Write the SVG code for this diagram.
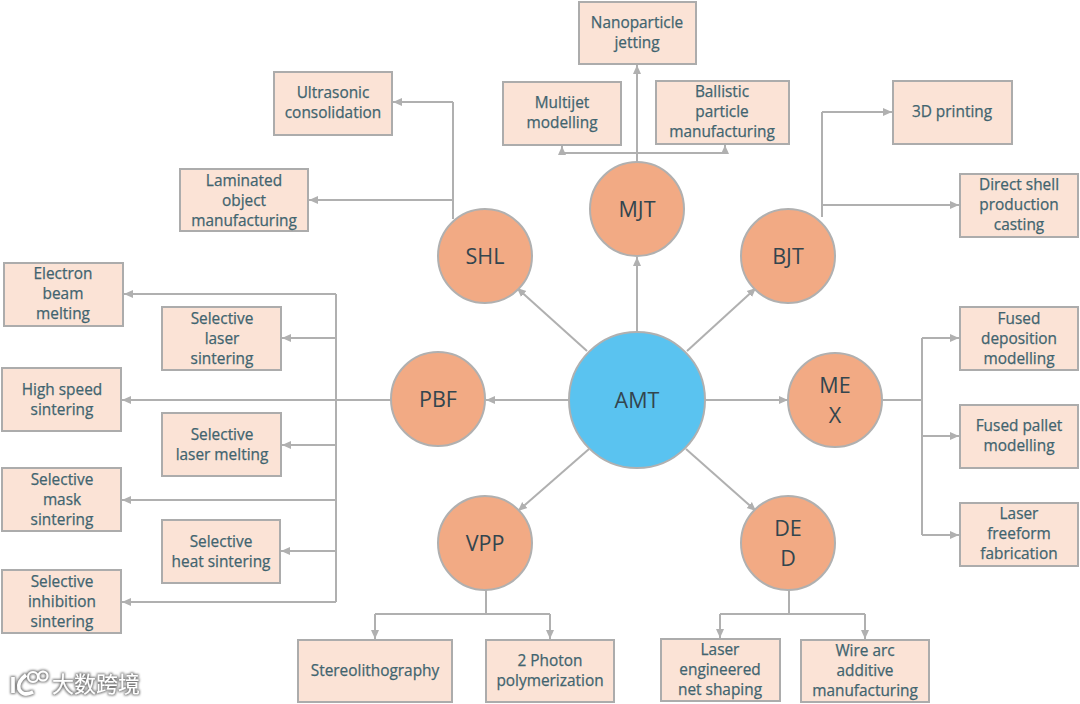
<svg xmlns="http://www.w3.org/2000/svg" width="1080" height="704" viewBox="0 0 1080 704">
<defs>
<marker id="a" markerUnits="userSpaceOnUse" markerWidth="10" markerHeight="10" refX="9" refY="5" orient="auto"><path d="M0,1 L9,5 L0,9 Z" fill="#b0b0b0"/></marker>
<filter id="s" x="-10%" y="-20%" width="120%" height="140%"><feMorphology in="SourceAlpha" operator="dilate" radius="0.8" result="d"/><feGaussianBlur in="d" stdDeviation="0.9" result="b"/><feFlood flood-color="#777777" flood-opacity="0.95"/><feComposite in2="b" operator="in"/><feMerge><feMergeNode/><feMergeNode in="SourceGraphic"/></feMerge></filter>
</defs>
<style>
text{font-family:"Open Sans","Liberation Sans",sans-serif;text-anchor:middle}
.b rect{fill:#fbe3d6;stroke:#acacac;stroke-width:2}
.b text{font-size:15.4px;fill:#41646f;stroke:#41646f;stroke-width:0.25}
.c circle{fill:#f2aa84;stroke:#b0b0b0;stroke-width:2}
.c text{font-size:21.5px;fill:#33454e}
#connectors path{fill:none;stroke:#b0b0b0;stroke-width:2}
.w{marker-end:url(#a)}
</style>
<rect width="1080" height="704" fill="#ffffff"/>
<g id="connectors">
<path class="w" d="M587,351 L517,288"/><path class="w" d="M637,332 L637,257"/><path class="w" d="M687,351 L756,288"/>
<path class="w" d="M569,400 L486,400"/><path class="w" d="M705,400 L788,400"/><path class="w" d="M589,449 L518,511"/><path class="w" d="M686,449 L756,511"/>
<path d="M453,219 L453,102"/><path class="w" d="M453,102 L393,102"/><path class="w" d="M453,200 L309,200"/>
<path class="w" d="M637,162 L637,65"/><path d="M562,153 L725,153"/><path class="w" d="M562,153 L562,146"/><path class="w" d="M725,153 L725,145"/>
<path d="M822,217 L822,112"/><path class="w" d="M822,112 L892,112"/><path class="w" d="M822,205 L959,205"/>
<path class="w" d="M391,400 L122,400"/><path d="M336,294 L336,602"/>
<path class="w" d="M336,294 L124,294"/><path class="w" d="M336,338 L282,338"/><path class="w" d="M336,445 L282,445"/><path class="w" d="M336,500 L122,500"/><path class="w" d="M336,551 L281,551"/><path class="w" d="M336,602 L122,602"/>
<path d="M883,400 L922,400 M922,338 L922,535"/><path class="w" d="M922,338 L959,338"/><path class="w" d="M922,436 L959,436"/><path class="w" d="M922,535 L959,535"/>
<path d="M486,590 L486,614 M375,614 L550,614"/><path class="w" d="M375,614 L375,639"/><path class="w" d="M550,614 L550,639"/>
<path d="M789,590 L789,614 M720,614 L865,614"/><path class="w" d="M720,614 L720,638"/><path class="w" d="M865,614 L865,639"/>
</g>
<g id="node-amt" class="c"><circle cx="637" cy="400" r="68" style="fill:#5ac3f0"/><text x="637" y="408">AMT</text></g>
<g id="node-shl" class="c"><circle cx="485" cy="256" r="47"/><text x="485" y="264">SHL</text></g>
<g id="node-mjt" class="c"><circle cx="637" cy="209" r="47"/><text x="637" y="217">MJT</text></g>
<g id="node-bjt" class="c"><circle cx="788" cy="256" r="47"/><text x="788" y="264">BJT</text></g>
<g id="node-pbf" class="c"><circle cx="438" cy="399" r="47"/><text x="438" y="407">PBF</text></g>
<g id="node-mex" class="c"><circle cx="835" cy="400" r="47"/><text x="835" y="393">ME</text><text x="835" y="423">X</text></g>
<g id="node-vpp" class="c"><circle cx="485" cy="543" r="47"/><text x="485" y="551">VPP</text></g>
<g id="node-ded" class="c"><circle cx="788" cy="543" r="47"/><text x="788" y="536">DE</text><text x="788" y="566">D</text></g>
<g id="box-nano" class="b"><rect x="579" y="2" width="117" height="62"/><text x="637" y="28">Nanoparticle</text><text x="637" y="48">jetting</text></g>
<g id="box-multijet" class="b"><rect x="503" y="82" width="118" height="63"/><text x="562" y="108">Multijet</text><text x="562" y="128">modelling</text></g>
<g id="box-ballistic" class="b"><rect x="656" y="81" width="133" height="63"/><text x="722" y="97">Ballistic</text><text x="722" y="117">particle</text><text x="722" y="137">manufacturing</text></g>
<g id="box-ultrasonic" class="b"><rect x="274" y="72" width="118" height="63"/><text x="333" y="98">Ultrasonic</text><text x="333" y="118">consolidation</text></g>
<g id="box-laminated" class="b"><rect x="180" y="169" width="128" height="62"/><text x="244" y="186">Laminated</text><text x="244" y="206">object</text><text x="244" y="226">manufacturing</text></g>
<g id="box-3dp" class="b"><rect x="893" y="81" width="119" height="63"/><text x="952" y="117">3D printing</text></g>
<g id="box-dspc" class="b"><rect x="960" y="174" width="118" height="63"/><text x="1019" y="190">Direct shell</text><text x="1019" y="210">production</text><text x="1019" y="230">casting</text></g>
<g id="box-ebm" class="b"><rect x="4" y="263" width="119" height="63"/><text x="63" y="279">Electron</text><text x="63" y="299">beam</text><text x="63" y="319">melting</text></g>
<g id="box-sls" class="b"><rect x="162" y="307" width="119" height="63"/><text x="222" y="324">Selective</text><text x="222" y="344">laser</text><text x="222" y="364">sintering</text></g>
<g id="box-hss" class="b"><rect x="2" y="368" width="119" height="63"/><text x="62" y="395">High speed</text><text x="62" y="415">sintering</text></g>
<g id="box-slm" class="b"><rect x="162" y="413" width="119" height="63"/><text x="222" y="440">Selective</text><text x="222" y="460">laser melting</text></g>
<g id="box-mask" class="b"><rect x="2" y="468" width="119" height="63"/><text x="62" y="485">Selective</text><text x="62" y="505">mask</text><text x="62" y="525">sintering</text></g>
<g id="box-heat" class="b"><rect x="162" y="520" width="118" height="63"/><text x="221" y="547">Selective</text><text x="221" y="567">heat sintering</text></g>
<g id="box-inhib" class="b"><rect x="2" y="570" width="119" height="63"/><text x="62" y="587">Selective</text><text x="62" y="607">inhibition</text><text x="62" y="627">sintering</text></g>
<g id="box-fdm" class="b"><rect x="960" y="307" width="118" height="63"/><text x="1019" y="324">Fused</text><text x="1019" y="344">deposition</text><text x="1019" y="364">modelling</text></g>
<g id="box-fpm" class="b"><rect x="960" y="405" width="118" height="63"/><text x="1019" y="431">Fused pallet</text><text x="1019" y="451">modelling</text></g>
<g id="box-lff" class="b"><rect x="960" y="503" width="118" height="63"/><text x="1019" y="519">Laser</text><text x="1019" y="539">freeform</text><text x="1019" y="559">fabrication</text></g>
<g id="box-sla" class="b"><rect x="298" y="640" width="154" height="62"/><text x="375" y="676">Stereolithography</text></g>
<g id="box-2pp" class="b"><rect x="486" y="640" width="128" height="62"/><text x="550" y="666">2 Photon</text><text x="550" y="686">polymerization</text></g>
<g id="box-lens" class="b"><rect x="661" y="639" width="119" height="62"/><text x="720" y="655">Laser</text><text x="720" y="675">engineered</text><text x="720" y="695">net shaping</text></g>
<g id="box-waam" class="b"><rect x="801" y="640" width="128" height="62"/><text x="865" y="656">Wire arc</text><text x="865" y="676">additive</text><text x="865" y="696">manufacturing</text></g>
<g id="watermark" filter="url(#s)">
<path d="M13,677 L13,693 M26,675 Q17,682 19,689 Q23,697 33,692" fill="none" stroke="#fff" stroke-width="3.5"/>
<circle cx="33" cy="677" r="5" fill="none" stroke="#fff" stroke-width="2"/><circle cx="43" cy="676" r="4.5" fill="none" stroke="#fff" stroke-width="2"/>
<text x="96" y="692" style="font-family:'Noto Sans CJK SC',sans-serif;font-size:22px;fill:#fff">大数跨境</text>
</g>
</svg>
